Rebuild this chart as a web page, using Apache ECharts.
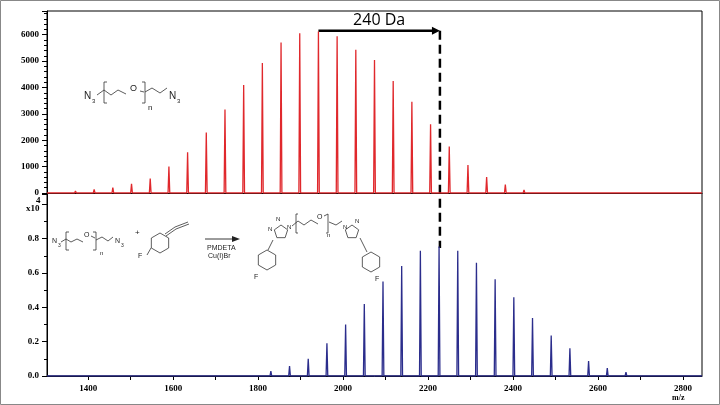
<!DOCTYPE html>
<html><head><meta charset="utf-8">
<script src="https://cdn.jsdelivr.net/npm/echarts@6/dist/echarts.min.js"></script>
<style>html,body{margin:0;padding:0;background:#fff}#c{width:720px;height:405px}</style>
</head><body><div id="c"></div>
<script>
const redMz = [1326,1370,1414,1458,1502,1546,1590,1634,1678,1722,1766,1810,1854,1898,1942,1986,2030,2074,2118,2162,2206,2250,2294,2338,2382,2426,2470];
const redInt = [50,80,140,200,350,550,1000,1540,2290,3170,4090,4930,5710,6060,6120,5940,5430,5040,4250,3460,2610,1760,1060,610,320,115,50];
const blueMz = [1786,1830,1874,1918,1962,2006,2050,2094,2138,2182,2226,2270,2314,2358,2402,2446,2490,2534,2578,2622,2666];
const blueInt = [0.01,0.029,0.058,0.10,0.19,0.30,0.42,0.55,0.64,0.73,0.754,0.73,0.66,0.564,0.458,0.338,0.236,0.162,0.087,0.046,0.023];
const xTicks = [1400,1600,1800,2000,2200,2400,2600,2800];
const xMinorTicks = [1400,1500,1600,1700,1800,1900,2000,2100,2200,2300,2400,2500,2600,2700,2800];
const shiftFrom = 1942, shiftTo = 2228;

function spectrum(mz, it, lo, hi){
  const d=[[lo,0]];
  mz.forEach((m,i)=>{d.push([m-2,0],[m,it[i]],[m+2,0]);});
  d.push([hi,0]);return d;
}
const XMIN=1303, XMAX=2845;
const lab={fontFamily:'Liberation Serif',fontWeight:'bold',fontSize:9,color:'#000'};
const ax={lineStyle:{color:'#000'}};
const chart=echarts.init(document.getElementById('c'));
chart.setOption({
  animation:false,
  grid:[{left:47,right:18,top:11,height:182},{left:47,right:18,top:194,height:182}],
  xAxis:[
    {type:'value',gridIndex:0,min:XMIN,max:XMAX,axisLine:ax,splitLine:{show:false},axisLabel:{show:false},axisTick:{show:false}},
    {type:'value',gridIndex:1,min:XMIN,max:XMAX,axisLine:ax,splitLine:{show:false},
     axisTick:{lineStyle:{color:'#000'},customValues:xMinorTicks,length:4},
     axisLabel:Object.assign({},lab,{customValues:xTicks,formatter:v=>String(v)})}
  ],
  yAxis:[
    {type:'value',gridIndex:0,min:0,max:6900,interval:1000,axisLine:{show:true,lineStyle:{color:'#000'}},axisTick:{show:true,lineStyle:{color:'#000'}},minorTick:{show:true,splitNumber:5,lineStyle:{color:'#000'}},splitLine:{show:false},axisLabel:Object.assign({},lab,{formatter:v=>v%1000===0?String(v):''})},
    {type:'value',gridIndex:1,min:0,max:1.06,interval:0.2,axisLine:{show:true,lineStyle:{color:'#000'}},axisTick:{show:true,lineStyle:{color:'#000'}},minorTick:{show:true,splitNumber:2,lineStyle:{color:'#000'}},splitLine:{show:false},axisLabel:Object.assign({},lab,{formatter:v=>v<1?v.toFixed(1):''})}
  ],
  series:[
    {type:'line',xAxisIndex:0,yAxisIndex:0,data:spectrum(redMz,redInt,XMIN,XMAX),symbol:'none',lineStyle:{color:'#e0282c',width:1.3}},
    {type:'line',xAxisIndex:1,yAxisIndex:1,data:spectrum(blueMz,blueInt,XMIN,XMAX),symbol:'none',lineStyle:{color:'#2b2d8c',width:1.3}}
  ]
});
const x1=chart.convertToPixel({xAxisIndex:0},shiftFrom);
const x2=chart.convertToPixel({xAxisIndex:0},shiftTo);
const yTop=chart.convertToPixel({yAxisIndex:0},6150);
const g=[];
const L=(pts,w,c)=>g.push({type:'polyline',shape:{points:pts},style:{stroke:c||'#333',lineWidth:w||0.8,fill:null}});
const T=(x,y,t,fs,extra)=>g.push({type:'text',x:x,y:y,style:Object.assign({text:t,fontSize:fs||8,fontFamily:'Liberation Sans',fill:'#222'},extra||{})});
g.push({type:'rect',shape:{x:0.5,y:0.5,width:719,height:404},style:{fill:null,stroke:'#888',lineWidth:1}});
g.push({type:'rect',shape:{x:47,y:11,width:655,height:365},style:{fill:null,stroke:'#000',lineWidth:1}});
L([[47,193.5],[702,193.5]],1,'#000');
L([[x1,yTop],[x2-6,yTop]],2.5,'#000');
g.push({type:'polygon',shape:{points:[[x2,yTop],[x2-8,yTop-4],[x2-8,yTop+4]]},style:{fill:'#000'}});
g.push({type:'line',shape:{x1:x2,y1:yTop,x2:x2,y2:248},style:{stroke:'#000',lineWidth:2.5,lineDash:[9,5]}});
T((x1+x2)/2,20,'240 Da',16,{align:'center',verticalAlign:'middle',fontFamily:'Open Sans',fill:'#000'});
T(36,196,'4',9,{fontFamily:'Liberation Serif',fontWeight:'bold',fill:'#000'});
T(26,204,'x10',9,{fontFamily:'Liberation Serif',fontWeight:'bold',fill:'#000'});
T(672,394,'m/z',8,{fontFamily:'Liberation Serif',fontWeight:'bold',fill:'#000'});
T(84,91,'N',10);T(92,98,'3',6);
L([[97,95],[104,90],[111,95],[118,90],[126,94]]);
L([[107,82],[104,82],[104,103],[107,103]]);
T(130,84,'O',9);
L([[140,91],[144,92]]);
L([[142,82],[145,82],[145,103],[142,103]]);
T(148,104,'n',8);
L([[145,92],[152,88],[160,93],[167,88]]);
T(169,91,'N',10);T(177,98,'3',6);
T(52,238,'N',7);T(58,243,'3',5);
L([[61,242],[66,239],[71,242],[77,239],[83,242]]);
L([[69,232],[66,232],[66,250],[69,250]]);
T(84,232,'O',7);
L([[91,236],[95,238]]);
L([[93,232],[96,232],[96,250],[93,250]]);
T(100,250,'n',6);
L([[96,240],[102,237],[108,241],[113,237]]);
T(115,238,'N',7);T(121,243,'3',5);
T(135,229,'+',8);
function hexagon(cx,cy,r,rot){const p=[];for(let i=0;i<6;i++){const a=rot+i*Math.PI/3;p.push([cx+r*Math.cos(a),cy+r*Math.sin(a)]);}g.push({type:'polygon',shape:{points:p},style:{stroke:'#333',fill:null,lineWidth:0.8}});return p;}
hexagon(160,243,10,Math.PI/6);
L([[165,234],[175,227],[188,222]]);L([[166,236],[176,229],[189,224]]);
T(138,253,'F',7);L([[147,255],[151,248]]);
L([[205,239],[233,239]],0.9,'#222');
g.push({type:'polygon',shape:{points:[[240,239],[232,236],[232,242]]},style:{fill:'#222'}});
T(207,245,'PMDETA',7);T(208,253,'Cu(I)Br',7);
function pent(cx,cy,r){const p=[];for(let i=0;i<5;i++){const a=-Math.PI/2+i*2*Math.PI/5;p.push([cx+r*Math.cos(a),cy+r*Math.sin(a)]);}g.push({type:'polygon',shape:{points:p},style:{stroke:'#333',fill:null,lineWidth:0.8}});}
pent(281,232,7);T(268,226,'N',6);T(276,216,'N',6);T(287,224,'N',6);
hexagon(267,260,10,Math.PI/2);L([[273,240],[268,250]]);T(254,274,'F',7);
L([[292,226],[298,221],[304,225],[311,220],[318,224]]);
L([[298,214],[296,214],[296,233],[298,233]]);
T(317,214,'O',7);
L([[324,216],[328,214],[328,233],[326,233]]);T(327,232,'n',6);
L([[329,222],[336,225],[342,221]]);
pent(352,232,7);T(343,224,'N',6);T(355,218,'N',6);
hexagon(371,262,10,Math.PI/2);L([[360,238],[367,252]]);T(375,276,'F',7);
chart.setOption({graphic:g});
</script></body></html>
